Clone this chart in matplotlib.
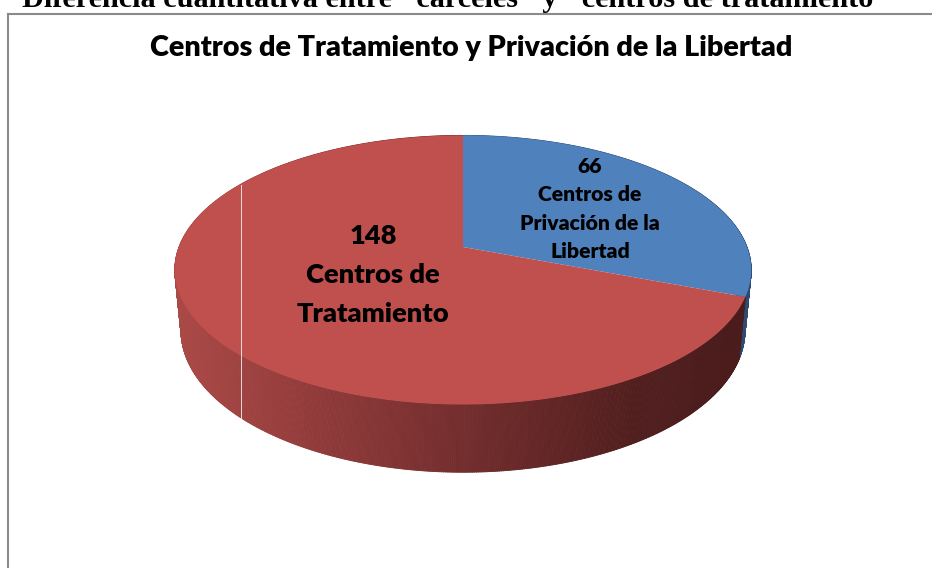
import numpy as np
import matplotlib
matplotlib.use('Agg')
import matplotlib.pyplot as plt
from matplotlib.collections import PolyCollection
from matplotlib.patches import Polygon
from matplotlib.colors import LinearSegmentedColormap

# ============ DATA ============
header = 'Diferencia cuantitativa entre "cárceles" y "centros de tratamiento"'
title = 'Centros de Tratamiento y Privación de la Libertad'
values = [66, 148]
labels = ['Centros de\nPrivación de la\nLibertad', 'Centros de\nTratamiento']
colors = ['#4F81BD', '#C0504D']

# ============ 3D PIE GEOMETRY (pixels) ============
CX, CY = 463, 247        # projected pie centre
SCALE = 284              # radius in px
SIN_T, COS_T = 0.46, 0.888   # camera tilt
DIST = 5.21              # camera distance (perspective)
HEIGHT = 0.242           # slab thickness (radius units)


def project(theta_deg, y=0.0):
    th = np.radians(theta_deg)
    X, Z = np.cos(th), np.sin(th)
    up = Z * SIN_T + y * COS_T
    fwd = Z * COS_T - y * SIN_T + DIST
    u = X * DIST / fwd
    v = up * DIST / fwd
    return CX + SCALE * u, CY - SCALE * v, fwd


fig = plt.figure(figsize=(9.32, 5.68), dpi=100)
ax = fig.add_axes([0, 0, 1, 1])
ax.set_xlim(0, 932)
ax.set_ylim(568, 0)
ax.axis('off')
renderer = fig.canvas.get_renderer()


def fit_size(text, width_px, **kw):
    t = ax.text(0, 0, text, fontsize=20, **kw)
    w = t.get_window_extent(renderer).width
    t.remove()
    return 20 * width_px / w


# slice angles, clockwise from 12 o'clock
total = sum(values)
spans = []
start = 90.0
for v in values:
    sweep = 360.0 * v / total
    spans.append((start, start - sweep))
    start -= sweep

# side faces as thin strips coloured by x position
red_side = LinearSegmentedColormap.from_list(
    'side', [(0.0, '#AA4A47'), (0.24, '#913A3A'), (0.5, '#732D2D'),
             (0.8, '#511E1E'), (1.0, '#4A1C1C')])
blue_side = LinearSegmentedColormap.from_list('bside', ['#3E6394', '#2E4A70'])
x_lo, x_hi = 177, 752

strips = []
for i, (a0, a1) in enumerate(spans):
    n = int(abs(a0 - a1) * 3) + 2
    th = np.linspace(a0, a1, n)
    tx, ty, tf = project(th)
    bx, by, bf = project(th, -HEIGHT)
    for j in range(n - 1):
        quad = [(tx[j], ty[j]), (tx[j + 1], ty[j + 1]),
                (bx[j + 1], by[j + 1]), (bx[j], by[j])]
        xm = (tx[j] + tx[j + 1]) / 2
        f = np.clip((xm - x_lo) / (x_hi - x_lo), 0, 1)
        col = blue_side(f) if i == 0 else red_side(f)
        depth = (tf[j] + tf[j + 1]) / 2
        strips.append((depth, quad, col))

strips.sort(key=lambda s: -s[0])
pc = PolyCollection([s[1] for s in strips], facecolors=[s[2] for s in strips],
                    edgecolors=[s[2] for s in strips], linewidths=0.6, zorder=1)
ax.add_collection(pc)

# top faces
for (a0, a1), col in zip(spans, colors):
    th = np.linspace(a0, a1, int(abs(a0 - a1) * 3) + 2)
    tx, ty, _ = project(th)
    pts = np.column_stack([np.r_[CX, tx], np.r_[CY, ty]])
    ax.add_patch(Polygon(pts, closed=True, facecolor=col, edgecolor='none', zorder=2))

# thin white seam visible in the original rendering
ax.plot([241, 241], [185, 418], color='white', lw=0.7, alpha=0.8, zorder=2.5)

# chart frame
ax.plot([8, 932], [13.5, 13.5], color='#8A8A8A', lw=1.5, zorder=3, clip_on=False)
ax.plot([8, 8], [13.5, 568], color='#8A8A8A', lw=1.5, zorder=3, clip_on=False)

# header (cut off at top of page, as in the source document)
hkw = dict(family='Liberation Serif', fontweight='bold')
hs = fit_size(header, 870, **hkw)
ax.text(22, 7, header, fontsize=hs, ha='left', va='baseline', zorder=3, **hkw)

# chart title
font = dict(family='Lato', fontweight='heavy')
ts = fit_size(title, 642, **font)
ax.text(150, 56, title, fontsize=ts, ha='left', va='baseline', zorder=3, **font)

# data labels
label_pos = [(590, 173, 28.3, 'Privación de la', 140),
             (373, 244, 39.0, 'Tratamiento', 153)]
for v, lab, (x, y0, dy, ref, w) in zip(values, labels, label_pos):
    fs = fit_size(ref, w, **font)
    lines = [str(v)] + lab.split('\n')
    for k, line in enumerate(lines):
        ax.text(x, y0 + k * dy, line, fontsize=fs, ha='center', va='baseline',
                zorder=4, **font)

fig.savefig('out.png', dpi=100)
